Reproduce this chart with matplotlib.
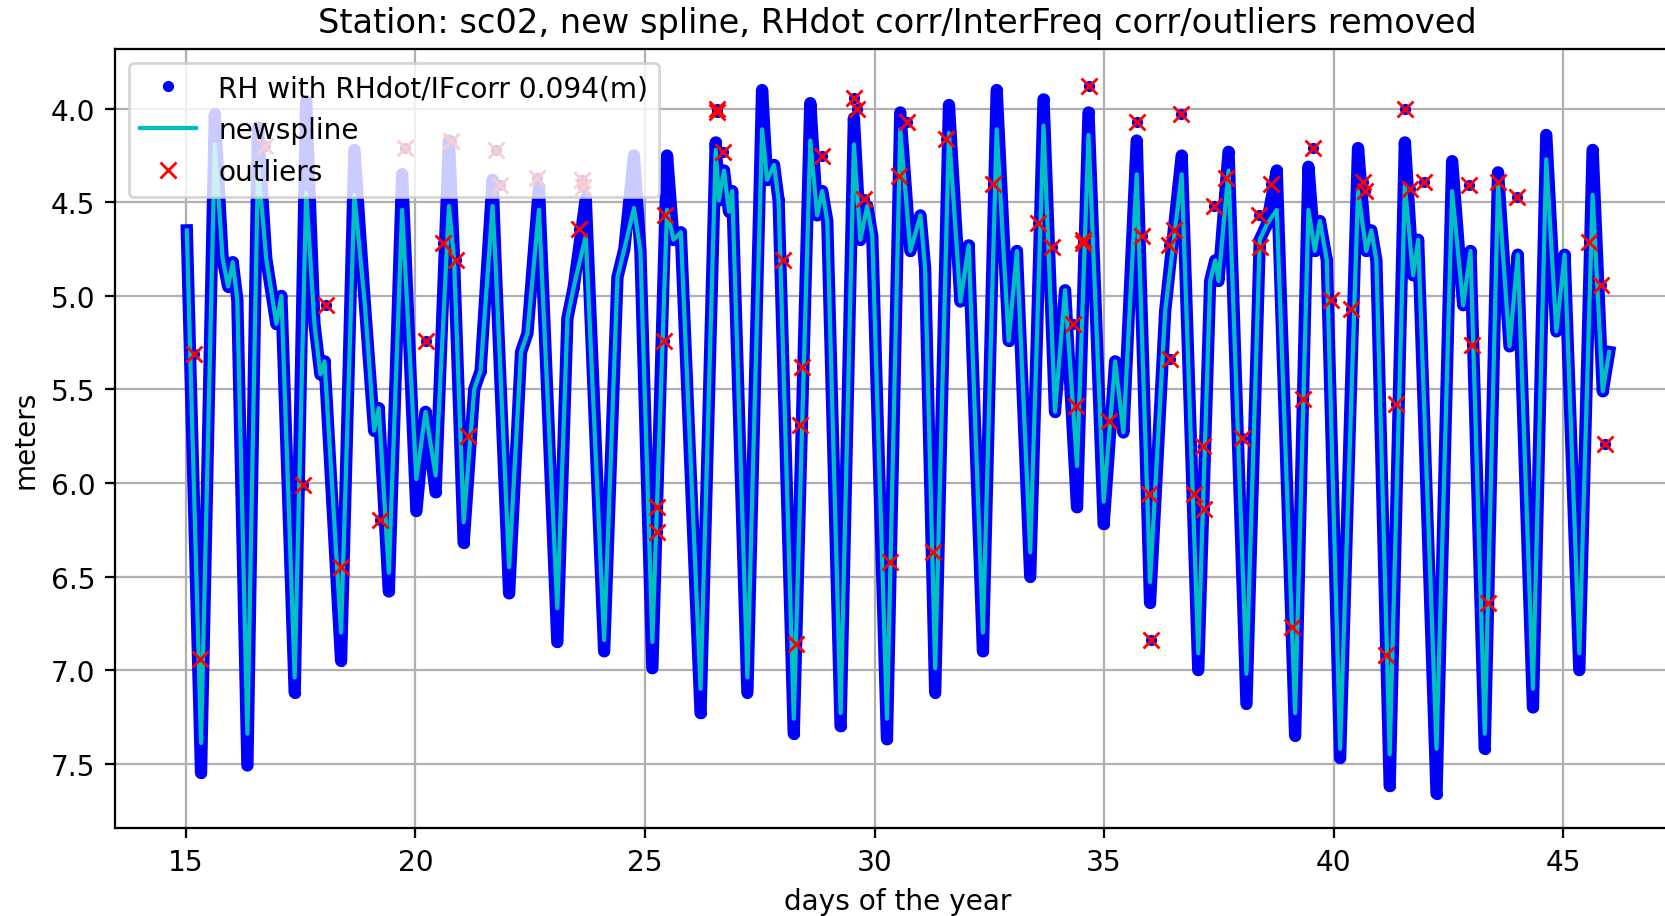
import matplotlib
matplotlib.use('Agg')
import matplotlib.pyplot as plt

# new spline through the reflector heights (day of year, meters)
spline_day = [15.02, 15.33, 15.63, 15.80, 15.92, 16.02, 16.12, 16.34, 16.57, 16.75,
              16.97, 17.08, 17.37, 17.62, 17.80, 17.93, 18.02, 18.38, 18.67, 18.90,
              19.10, 19.20, 19.42, 19.71, 20.02, 20.22, 20.44, 20.73, 20.84, 21.05,
              21.28, 21.42, 21.68, 21.75, 22.04, 22.30, 22.44, 22.69, 23.09, 23.31,
              23.45, 23.71, 24.11, 24.40, 24.55, 24.76, 24.90, 25.16, 25.48, 25.62,
              25.78, 26.21, 26.54, 26.61, 26.72, 26.83, 26.90, 27.23, 27.55, 27.66,
              27.81, 27.91, 28.24, 28.60, 28.75, 28.86, 28.97, 29.26, 29.55, 29.69,
              29.84, 29.95, 30.27, 30.56, 30.78, 31.00, 31.10, 31.32, 31.62, 31.87,
              32.05, 32.36, 32.66, 32.92, 33.10, 33.39, 33.68, 33.93, 34.15, 34.41,
              34.66, 34.99, 35.24, 35.42, 35.71, 36.00, 36.33, 36.69, 37.05, 37.31,
              37.42, 37.49, 37.71, 38.10, 38.39, 38.54, 38.76, 39.16, 39.45, 39.59,
              39.70, 39.85, 40.14, 40.53, 40.71, 40.82, 40.93, 41.22, 41.55, 41.73,
              41.84, 42.24, 42.58, 42.82, 42.98, 43.29, 43.58, 43.83, 44.01, 44.34,
              44.63, 44.85, 45.03, 45.35, 45.64, 45.86, 46.00]
spline_m = [4.65, 7.39, 4.19, 4.80, 4.95, 4.82, 5.02, 7.34, 4.30, 4.80,
            5.15, 5.00, 7.04, 4.45, 5.15, 5.42, 5.35, 6.80, 4.46, 5.05,
            5.72, 5.60, 6.48, 4.54, 5.98, 5.62, 5.96, 4.52, 4.80, 6.21,
            5.50, 5.40, 4.52, 4.85, 6.45, 5.30, 5.20, 4.54, 6.67, 5.12,
            4.95, 4.68, 6.84, 4.90, 4.75, 4.53, 4.76, 6.85, 4.54, 4.70,
            4.66, 7.10, 4.22, 4.49, 4.33, 4.55, 4.44, 7.04, 4.11, 4.38,
            4.30, 4.49, 7.26, 4.17, 4.57, 4.44, 4.60, 7.23, 4.19, 4.70,
            4.52, 4.68, 7.26, 4.11, 4.76, 4.57, 4.85, 6.99, 4.13, 5.03,
            4.73, 6.80, 4.11, 5.24, 4.76, 6.37, 4.09, 5.62, 4.97, 5.91,
            4.14, 6.10, 5.35, 5.73, 4.35, 6.53, 5.08, 4.35, 6.91, 4.92,
            4.81, 4.92, 4.33, 7.02, 4.70, 4.62, 4.54, 7.23, 4.54, 4.76,
            4.60, 4.81, 7.42, 4.44, 4.76, 4.65, 4.81, 7.45, 4.41, 4.89,
            4.70, 7.42, 4.44, 5.05, 4.76, 7.34, 4.41, 5.27, 4.78, 7.10,
            4.27, 5.19, 4.78, 6.91, 4.46, 5.51, 5.30]

# RH retrievals after RHdot/IFcorr (same times, extremes reach further)
rh_day = spline_day
rh_m = [4.65, 7.55, 4.03, 4.80, 4.95, 4.82, 5.02, 7.51, 4.10, 4.80,
        5.15, 5.00, 7.12, 3.96, 5.15, 5.42, 5.35, 6.95, 4.22, 5.05,
        5.72, 5.60, 6.58, 4.35, 6.15, 5.62, 6.05, 4.17, 4.80, 6.32,
        5.50, 5.40, 4.38, 4.85, 6.59, 5.30, 5.20, 4.42, 6.85, 5.12,
        4.95, 4.48, 6.90, 4.90, 4.75, 4.25, 4.76, 6.99, 4.25, 4.70,
        4.66, 7.23, 4.18, 4.49, 4.33, 4.55, 4.44, 7.12, 3.90, 4.38,
        4.30, 4.49, 7.34, 3.97, 4.57, 4.44, 4.60, 7.30, 4.05, 4.70,
        4.52, 4.68, 7.37, 4.02, 4.76, 4.57, 4.85, 7.12, 3.98, 5.03,
        4.73, 6.90, 3.90, 5.24, 4.76, 6.50, 3.95, 5.62, 4.97, 6.13,
        4.02, 6.22, 5.35, 5.73, 4.17, 6.64, 5.08, 4.25, 7.00, 4.92,
        4.81, 4.92, 4.23, 7.18, 4.70, 4.62, 4.33, 7.35, 4.31, 4.76,
        4.60, 4.81, 7.47, 4.21, 4.76, 4.65, 4.81, 7.62, 4.18, 4.89,
        4.70, 7.66, 4.28, 5.05, 4.76, 7.42, 4.34, 5.27, 4.78, 7.20,
        4.14, 5.19, 4.78, 7.00, 4.22, 5.51, 5.30]

# points flagged as outliers
out_day = [15.17, 15.31, 16.72, 17.55, 18.06, 18.38, 19.22, 19.77, 20.22, 20.61,
           20.78, 20.88, 21.14, 21.75, 21.84, 22.65, 23.57, 23.62, 23.66, 25.27,
           25.27, 25.42, 25.44, 26.57, 26.57, 26.70, 28.01, 28.28, 28.37, 28.42,
           28.85, 29.55, 29.61, 29.77, 30.33, 30.54, 30.71, 31.28, 31.56, 32.58,
           33.56, 33.86, 34.33, 34.39, 34.53, 34.55, 34.66, 35.11, 35.72, 35.83,
           35.97, 36.03, 36.41, 36.43, 36.53, 36.68, 36.96, 37.15, 37.18, 37.39,
           37.65, 38.01, 38.37, 38.39, 38.64, 39.09, 39.33, 39.55, 39.95, 40.37,
           40.64, 40.69, 41.15, 41.36, 41.55, 41.67, 41.97, 42.95, 43.02, 43.37,
           43.57, 44.00, 45.56, 45.83, 45.91]
out_m = [5.31, 6.94, 4.20, 6.01, 5.05, 6.45, 6.20, 4.21, 5.24, 4.72,
         4.17, 4.81, 5.75, 4.22, 4.41, 4.37, 4.64, 4.38, 4.42, 6.13,
         6.26, 5.24, 4.57, 4.00, 4.02, 4.23, 4.81, 6.86, 5.69, 5.38,
         4.25, 3.94, 4.00, 4.48, 6.42, 4.36, 4.07, 6.37, 4.16, 4.40,
         4.61, 4.74, 5.15, 5.59, 4.70, 4.72, 3.88, 5.67, 4.07, 4.68,
         6.06, 6.84, 4.73, 5.34, 4.65, 4.03, 6.06, 5.80, 6.14, 4.52,
         4.37, 5.76, 4.57, 4.74, 4.40, 6.77, 5.55, 4.21, 5.02, 5.07,
         4.39, 4.44, 6.92, 5.58, 4.00, 4.43, 4.39, 4.41, 5.26, 6.64,
         4.39, 4.47, 4.71, 4.94, 5.79]

station = 'sc02'
rms = 0.094

fig = plt.figure(figsize=(1665 / 201.5, 917 / 201.5), dpi=201.5)
ax = fig.add_axes([0.0689, 0.096, 0.9403, 0.8496])

# dense RH track drawn as a thick band, then the individual points
ax.plot(rh_day, rh_m, color='b', lw=4.4, solid_joinstyle='round', zorder=2)
ax.plot(rh_day, rh_m, 'b.', label='RH with RHdot/IFcorr ' + str(rms) + '(m)', zorder=2)
ax.plot(out_day, out_m, 'b.', zorder=2)
ax.plot(spline_day, spline_m, 'c-', solid_joinstyle='round', label='newspline', zorder=2.1)
ax.plot(out_day, out_m, 'rx', label='outliers', zorder=3)

ax.set_xlim(13.45, 47.55)
ax.set_ylim(7.844, 3.68)
ax.grid(True)
ax.legend(loc='upper left')
ax.set_xlabel('days of the year')
ax.set_ylabel('meters')
ax.set_title('Station: ' + station + ', new spline, RHdot corr/InterFreq corr/outliers removed')

fig.savefig('out.png', dpi=201.5)
